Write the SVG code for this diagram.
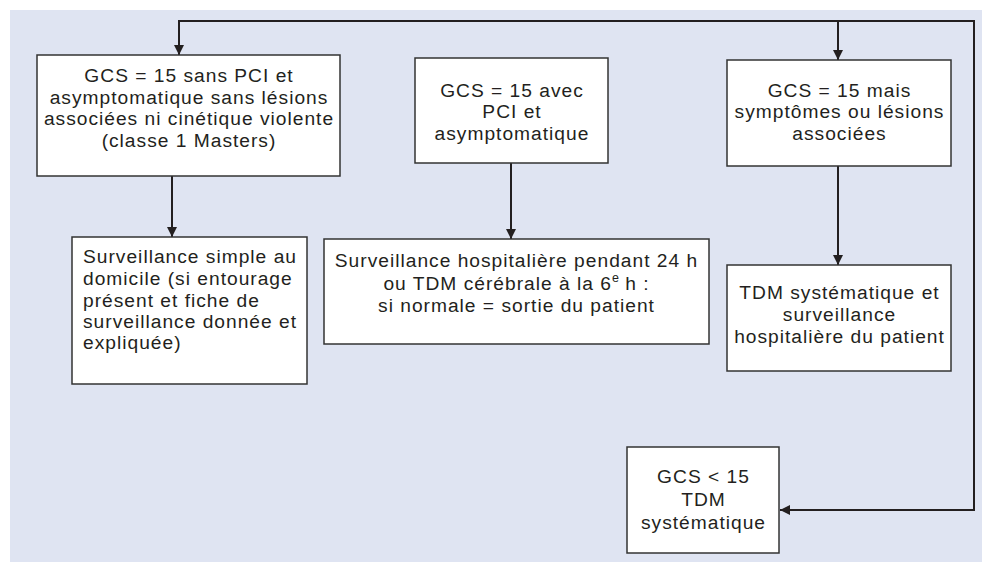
<svg xmlns="http://www.w3.org/2000/svg" width="982" height="562" viewBox="0 0 982 562">
<defs>
<marker id="ah" viewBox="0 0 10 10" refX="10" refY="5" markerWidth="10" markerHeight="10" markerUnits="userSpaceOnUse" orient="auto">
<path d="M0,0 L10,5 L0,10 Z" fill="#231f20"/>
</marker>
<style>
.box{fill:#ffffff;stroke:#333333;stroke-width:1.5}
.t{font-family:"Liberation Sans",Arial,sans-serif;font-size:19.2px;letter-spacing:1px;fill:#231f20}
.c{text-anchor:middle}
.ln{fill:none;stroke:#231f20;stroke-width:2}
</style>
</defs>
<rect x="10" y="10" width="972" height="552" fill="#dfe4f2"/>
<g id="connectors">
<polyline class="ln" points="179,21 974,21 974,510 780,510" marker-end="url(#ah)"/>
<path class="ln" d="M179,20 L179,55" marker-end="url(#ah)"/>
<path class="ln" d="M838,21 L838,60" marker-end="url(#ah)"/>
<path class="ln" d="M172,176 L172,237" marker-end="url(#ah)"/>
<path class="ln" d="M511,163 L511,239" marker-end="url(#ah)"/>
<path class="ln" d="M838,166 L838,265" marker-end="url(#ah)"/>
</g>
<g id="n1">
<rect class="box" x="37" y="55" width="303" height="121"/>
<text class="t c" x="189" y="82">GCS = 15 sans PCI et</text>
<text class="t c" x="189" y="104">asymptomatique sans lésions</text>
<text class="t c" x="189" y="125">associées ni cinétique violente</text>
<text class="t c" x="189" y="147">(classe 1 Masters)</text>
</g>
<g id="n2">
<rect class="box" x="415" y="58" width="193" height="105"/>
<text class="t c" x="512" y="97">GCS = 15 avec</text>
<text class="t c" x="512" y="118">PCI et</text>
<text class="t c" x="512" y="140">asymptomatique</text>
</g>
<g id="n3">
<rect class="box" x="727" y="60" width="224" height="106"/>
<text class="t c" x="839.5" y="97">GCS = 15 mais</text>
<text class="t c" x="839.5" y="118">symptômes ou lésions</text>
<text class="t c" x="839.5" y="140">associées</text>
</g>
<g id="n4">
<rect class="box" x="72" y="237" width="235" height="147"/>
<text class="t" x="83" y="263">Surveillance simple au</text>
<text class="t" x="83" y="285">domicile (si entourage</text>
<text class="t" x="83" y="307">présent et fiche de</text>
<text class="t" x="83" y="328">surveillance donnée et</text>
<text class="t" x="83" y="349">expliquée)</text>
</g>
<g id="n5">
<rect class="box" x="324" y="239" width="385" height="105"/>
<text class="t c" x="516.5" y="267">Surveillance hospitalière pendant 24 h</text>
<text class="t c" x="516.5" y="290">ou TDM cérébrale à la 6<tspan dy="-8" font-size="12.5" letter-spacing="0">e</tspan><tspan dy="8"> h :</tspan></text>
<text class="t c" x="516.5" y="312">si normale = sortie du patient</text>
</g>
<g id="n6">
<rect class="box" x="727" y="265" width="224" height="106"/>
<text class="t c" x="839.5" y="299">TDM systématique et</text>
<text class="t c" x="839.5" y="321">surveillance</text>
<text class="t c" x="839.5" y="343">hospitalière du patient</text>
</g>
<g id="n7">
<rect class="box" x="627" y="447" width="152" height="106"/>
<text class="t c" x="703.5" y="483">GCS &lt; 15</text>
<text class="t c" x="703.5" y="506">TDM</text>
<text class="t c" x="703.5" y="529">systématique</text>
</g>
</svg>
